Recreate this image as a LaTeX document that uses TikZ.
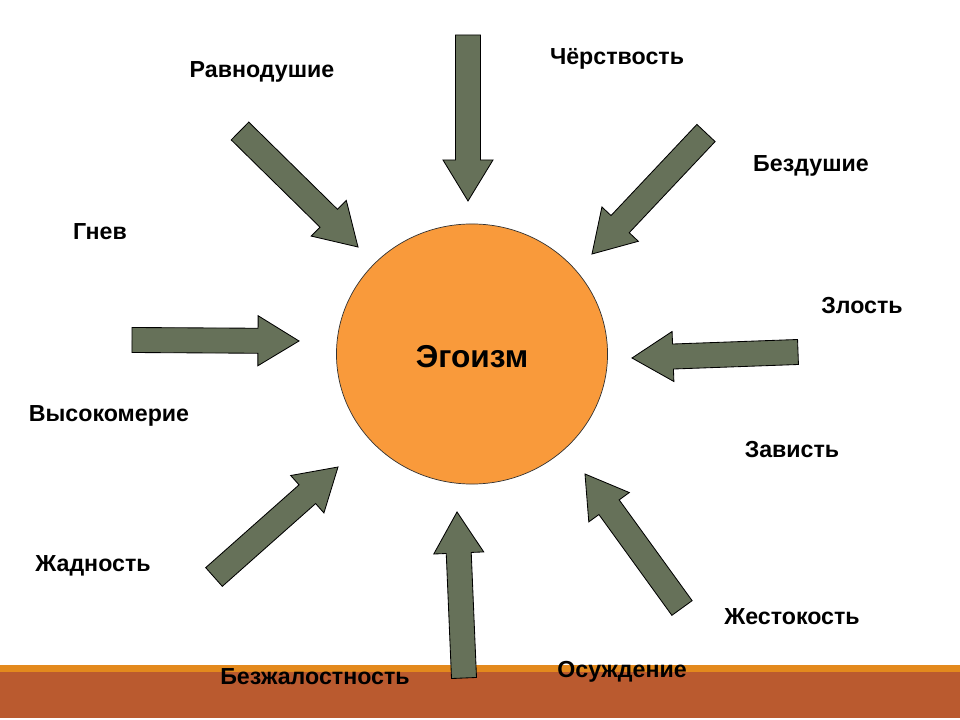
\documentclass[tikz,border=0pt]{standalone}
\usepackage{fontspec}
\setmainfont{Liberation Sans}
\usetikzlibrary{calc,shapes.geometric}

\definecolor{arrowgreen}{HTML}{667159}
\definecolor{egoorange}{HTML}{F99A3B}
\definecolor{stripeorange}{HTML}{E3891D}
\definecolor{stripebrown}{HTML}{BA5A2F}

\tikzset{
  pointer/.style={draw=black, fill=arrowgreen, line width=0.6pt, line join=miter},
  word/.style={font=\bfseries\fontsize{16.5}{20}\selectfont, anchor=base, inner sep=0pt},
}

% block arrow from tail (#1) to tip (#2)
\newcommand\bigarrow[2]{%
  \coordinate (hb) at ($(#2)!1.025cm!(#1)$);
  \draw[pointer] ($(#1)!0.3125cm!90:(#2)$) -- ($(hb)!0.3125cm!90:(#2)$)
    -- ($(hb)!0.625cm!90:(#2)$) -- (#2) -- ($(hb)!0.625cm!-90:(#2)$)
    -- ($(hb)!0.3125cm!-90:(#2)$) -- ($(#1)!0.3125cm!-90:(#2)$) -- cycle;
}

\begin{document}
\begin{tikzpicture}[x=0.025cm, y=-0.025cm]
    \useasboundingbox (0,0) rectangle (960,720);
    \fill[white] (0,0) rectangle (960,720);
    \fill[stripeorange] (0,665) rectangle (960,672);
    \fill[stripebrown] (0,672) rectangle (960,718);

    \node[ellipse, draw=black!80, line width=0.5pt, fill=egoorange, minimum width=6.775cm, minimum height=6.5cm, inner sep=0pt] (ego) at (472,354) {};
    \node[word, font=\bfseries\fontsize{22.5}{27}\selectfont] (egoism) at (472,368) {Эгоизм};

    \coordinate (t-top) at (468,35);   \coordinate (h-top) at (468,201);
    \coordinate (t-tl) at (240,131);   \coordinate (h-tl) at (358,247);
    \coordinate (t-tr) at (706,133);   \coordinate (h-tr) at (592,254);
    \coordinate (t-left) at (132,340); \coordinate (h-left) at (299,341);
    \coordinate (t-right) at (798,352); \coordinate (h-right) at (632,358);
    \coordinate (t-bl) at (214,577);   \coordinate (h-bl) at (338,467);
    \coordinate (t-bot) at (464,678);  \coordinate (h-bot) at (457,512);
    \coordinate (t-br) at (682,608);   \coordinate (h-br) at (585,474);

    \bigarrow{t-top}{h-top}
    \bigarrow{t-tl}{h-tl}
    \bigarrow{t-tr}{h-tr}
    \bigarrow{t-left}{h-left}
    \bigarrow{t-right}{h-right}
    \bigarrow{t-bl}{h-bl}
    \bigarrow{t-bot}{h-bot}
    \bigarrow{t-br}{h-br}

    \node[word] (ravn) at (262,78) {Равнодушие};
    \node[word] (cherst) at (617,65) {Чёрствость};
    \node[word] (bezdush) at (811,172) {Бездушие};
    \node[word] (gnev) at (100,240) {Гнев};
    \node[word] (zlost) at (862,314) {Злость};
    \node[word] (vysok) at (109,422) {Высокомерие};
    \node[word] (zavist) at (792,458) {Зависть};
    \node[word] (zhadn) at (93,572) {Жадность};
    \node[word] (zhest) at (792,624) {Жестокость};
    \node[word] (bezzh) at (315,684) {Безжалостность};
    \node[word] (osuzh) at (622,677) {Осуждение};
\end{tikzpicture}
\end{document}
